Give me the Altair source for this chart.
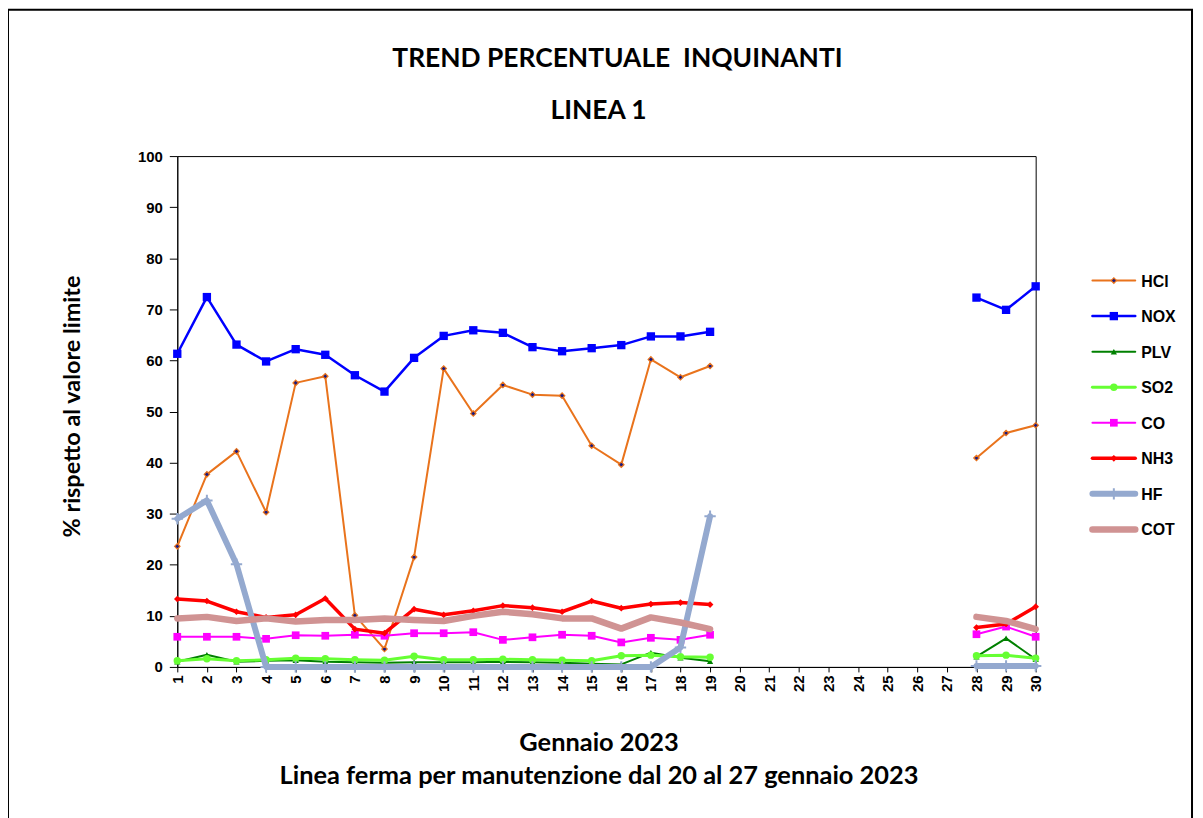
import altair as alt
import pandas as pd

# ---- data -------------------------------------------------------------
days = list(range(1, 31))
op_days = list(range(1, 20)) + [28, 29, 30]

series_names = ["HCl", "NOX", "PLV", "SO2", "CO", "NH3", "HF", "COT"]

HCl = [23.6, 37.7, 42.2, 30.3, 55.6, 56.9, 10.1, 3.5, 21.5, 58.4, 49.6, 55.2, 53.3, 53.1, 43.3, 39.6, 60.2, 56.7, 58.9,
       40.9, 45.8, 47.3]
NOX = [61.3, 72.4, 63.1, 59.8, 62.2, 61.1, 57.1, 53.9, 60.5, 64.8, 65.9, 65.4, 62.6, 61.8, 62.4, 63.0, 64.7, 64.7, 65.6,
       72.3, 69.9, 74.5]
PLV = [1.0, 2.4, 1.0, 1.2, 1.3, 1.0, 0.9, 0.8, 0.9, 0.9, 0.9, 1.0, 0.9, 0.8, 0.6, 0.5, 2.8, 1.8, 1.1,
       2.0, 5.6, 1.5]
SO2 = [1.2, 1.6, 1.2, 1.4, 1.7, 1.6, 1.4, 1.3, 2.1, 1.4, 1.4, 1.5, 1.4, 1.3, 1.2, 2.2, 2.3, 2.0, 1.9,
       2.2, 2.3, 1.7]
CO = [5.9, 5.9, 5.9, 5.5, 6.2, 6.1, 6.3, 6.1, 6.6, 6.6, 6.8, 5.3, 5.8, 6.3, 6.1, 4.8, 5.7, 5.3, 6.3,
      6.4, 7.9, 5.9]
NH3 = [13.3, 12.9, 10.8, 9.7, 10.2, 13.4, 7.4, 6.6, 11.3, 10.2, 11.0, 12.0, 11.6, 10.8, 12.9, 11.5, 12.3, 12.6, 12.2,
       7.7, 8.4, 11.8]
HF = [29.0, 32.6, 20.1, 0.0, 0.0, 0.0, 0.0, 0.0, 0.0, 0.0, 0.0, 0.0, 0.0, 0.0, 0.0, 0.0, 0.0, 3.8, 29.5,
      0.2, 0.2, 0.2]
COT = [9.5, 9.8, 9.0, 9.5, 8.9, 9.2, 9.2, 9.5, 9.2, 9.0, 10.0, 10.8, 10.3, 9.5, 9.5, 7.5, 9.7, 8.7, 7.4,
       9.8, 9.0, 7.4]

series_values = [HCl, NOX, PLV, SO2, CO, NH3, HF, COT]

y_ticks = list(range(0, 101, 10))

title_line1 = "TREND PERCENTUALE\u00a0 INQUINANTI"
title_line2 = "LINEA 1"
x_title = ["Gennaio 2023", "Linea ferma per manutenzione dal 20 al 27 gennaio 2023"]
y_title = "% rispetto al valore limite"

rows = []
for name, vals in zip(series_names, series_values):
    for d, v in zip(op_days, vals):
        rows.append({"serie": name, "giorno": d, "valore": v, "tratto": "a" if d <= 19 else "b"})
df = pd.DataFrame(rows)

# ---- styles -----------------------------------------------------------
CROSS = "M-1,0H1M0,-1V1"
styles = {
    "HCl": dict(color="#E9731C", width=2, shape="diamond", size=30, fill="#1A1A80", filled=True, sw=1.2),
    "NOX": dict(color="#0000FF", width=2.5, shape="square", size=70, fill="#0000FF", filled=True, sw=0),
    "PLV": dict(color="#008000", width=2, shape="triangle-up", size=40, fill="#008000", filled=True, sw=0),
    "SO2": dict(color="#66FF33", width=3, shape="circle", size=55, fill="#66FF33", filled=True, sw=0),
    "CO": dict(color="#FF00FF", width=2, shape="square", size=60, fill="#FF00FF", filled=True, sw=0),
    "NH3": dict(color="#FF0000", width=3.5, shape="diamond", size=45, fill="#FF0000", filled=True, sw=0),
    "HF": dict(color="#94A9CF", width=6, shape=CROSS, size=130, fill=None, filled=False, sw=2),
    "COT": dict(color="#D09393", width=6.5, shape=None, size=0, fill=None, filled=False, sw=0),
}

LBL = "Liberation Sans"
TTL = "Lato"

x_enc = alt.X(
    "giorno:Q",
    scale=alt.Scale(domain=[1, 30], nice=False, zero=False),
    axis=alt.Axis(
        values=days,
        format="d",
        labelAngle=270,
        tickSize=5,
        labelPadding=3,
        labelFont=LBL,
        labelFontSize=15,
        labelFontWeight="bold",
        labelColor="black",
        title=x_title,
        titleFont=TTL,
        titleFontSize=25.5,
        titleFontWeight="bold",
        titleLineHeight=33,
        titleX=423,
        titleY=84,
        titleAlign="center",
        titleBaseline="alphabetic",
        titleColor="black",
    ),
)
y_enc = alt.Y(
    "valore:Q",
    scale=alt.Scale(domain=[0, 100], nice=False),
    axis=alt.Axis(
        values=y_ticks,
        tickSize=8,
        labelPadding=7,
        labelFont=LBL,
        labelFontSize=15,
        labelFontWeight="bold",
        labelColor="black",
        title=y_title,
        titleFont=TTL,
        titleFontSize=23.5,
        titleFontWeight="bold",
        titleAngle=270,
        titleX=-105,
        titleY=251,
        titleAlign="center",
        titleBaseline="middle",
        titleColor="black",
    ),
)

base = alt.Chart(df)
layers = []
for name in series_names:
    st = styles[name]
    sub = base.transform_filter(alt.datum.serie == name)
    layers.append(
        sub.mark_line(color=st["color"], strokeWidth=st["width"], strokeJoin="round", strokeCap="round").encode(
            x=x_enc, y=y_enc, detail="tratto:N"
        )
    )
    if st["shape"] is not None:
        pt_kwargs = dict(shape=st["shape"], size=st["size"], opacity=1)
        if st["filled"]:
            pt_kwargs.update(filled=True, fill=st["fill"], stroke=st["color"], strokeWidth=st["sw"])
        else:
            pt_kwargs.update(filled=False, stroke=st["color"], strokeWidth=st["sw"])
        layers.append(sub.mark_point(**pt_kwargs).encode(x=x_enc, y=y_enc))

# ---- manual legend (line + marker + label) ----------------------------
one = alt.Data(values=[{"k": 0}])
for i, name in enumerate(series_names):
    st = styles[name]
    ly = 125 + 35.7 * i
    layers.append(
        alt.Chart(one).mark_rule(color=st["color"], strokeWidth=st["width"], strokeCap="round").encode(
            x=alt.value(919), x2=alt.value(962), y=alt.value(ly)
        )
    )
    if st["shape"] is not None:
        pt_kwargs = dict(shape=st["shape"], size=st["size"], opacity=1)
        if st["filled"]:
            pt_kwargs.update(filled=True, fill=st["fill"], stroke=st["color"], strokeWidth=st["sw"])
        else:
            pt_kwargs.update(filled=False, stroke=st["color"], strokeWidth=st["sw"])
        layers.append(alt.Chart(one).mark_point(**pt_kwargs).encode(x=alt.value(940.5), y=alt.value(ly)))
    layers.append(
        alt.Chart(one).mark_text(align="left", baseline="middle", font=LBL, fontSize=16, fontWeight="bold",
                                 color="black").encode(x=alt.value(968), y=alt.value(ly + 1), text=alt.value(name))
    )

# ---- titles as text ----------------------------------------------------
layers.append(
    alt.Chart(one).mark_text(align="center", baseline="alphabetic", font=TTL, fontSize=26.5, fontWeight="bold",
                             color="black").encode(x=alt.value(442), y=alt.value(-89), text=alt.value(title_line1))
)
layers.append(
    alt.Chart(one).mark_text(align="center", baseline="alphabetic", font=TTL, fontSize=26.5, fontWeight="bold",
                             color="black").encode(x=alt.value(423), y=alt.value(-37), text=alt.value(title_line2))
)

# ---- outer frame -------------------------------------------------------
frame = alt.Chart(one).mark_rect(fill=None, stroke="black", strokeWidth=2).encode(
    x=alt.value(-170), x2=alt.value(1019), y=alt.value(-147), y2=alt.value(720)
)

chart = alt.layer(frame, *layers).properties(
    width=862,
    height=513,
    padding={"left": 170, "top": 147, "right": 160, "bottom": 150},
    autosize=alt.AutoSizeParams(type="none"),
).configure_view(stroke="black", strokeWidth=1).configure_axis(
    grid=False, domainColor="black", tickColor="black"
)

chart.save("out.html", embed_options={"renderer": "svg", "actions": False})
